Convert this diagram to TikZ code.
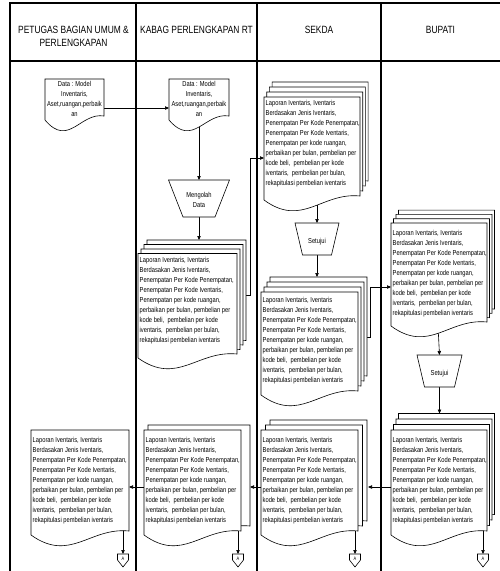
\documentclass[tikz,border=0pt]{standalone}
\usepackage{fontspec}
\setmainfont{Liberation Sans}[FakeStretch=0.8]
\usetikzlibrary{arrows.meta}
\tikzset{
  lane/.style={line width=1.1pt, line cap=rect},
  pagest/.style={draw, fill=white, line width=0.6pt, line join=miter},
  conn/.style={line width=0.6pt, -{Triangle[length=4pt,width=3.4pt]}},
  head/.style={font=\fontsize{10.5}{12.5}\selectfont, align=center, inner sep=0pt},
  doctext/.style={font=\fontsize{7.2}{10}\selectfont, align=left, inner sep=0pt, anchor=north west},
  smalltext/.style={font=\fontsize{7.2}{10}\selectfont, align=center, inner sep=0pt, anchor=north},
  proctext/.style={font=\fontsize{7.2}{10}\selectfont, align=center, inner sep=0pt},
  atext/.style={font=\fontsize{5}{6}\selectfont, inner sep=0pt}
}
\newcommand{\docshape}[5][]{\path[pagest,#1] (#2,#3) -- (#4,#3) -- (#4,{#5-4}) .. controls ({#2+0.6*(#4-#2)},{#5-8}) and ({#2+0.4*(#4-#2)},{#5+28}) .. (#2,#5) -- cycle;}
\newcommand{\docstack}[7]{\foreach \k in {#1,...,0}{\docshape[shift={({\k*#2},{-\k*#3})}]{#4}{#5}{#6}{#7}}}
\newcommand{\laptxt}{Laporan Iventaris, Iventaris\\Berdasakan Jenis Iventaris,\\Penempatan Per Kode Penempatan,\\Penempatan Per Kode Iventaris,\\Penempatan per kode ruangan,\\perbaikan per bulan, pembelian per\\kode beli,\ \ pembelian per kode\\iventaris,\ \ pembelian per bulan,\\rekapitulasi pembelian iventaris}
\newcommand{\offpage}[2]{\path[pagest] ({#1-5.5},554) -- ({#1+5.5},554) -- ({#1+5.5},560) -- (#1,567) -- ({#1-5.5},560) -- cycle; \node[atext] (#2) at (#1,558.5) {A};}
\newcommand{\invtrap}[6]{\path[pagest] ({#1-#3},#2) -- ({#1+#3},#2) -- ({#1+#4},{#2+#5}) -- ({#1-#4},{#2+#5}) -- cycle; \coordinate (#6top) at (#1,#2); \coordinate (#6bot) at (#1,{#2+#5});}
\begin{document}
\begin{tikzpicture}[x=1pt,y=-1pt]
\useasboundingbox (0,0) rectangle (500,571);
% swimlane frame
\draw[lane] (10,3) -- (500,3);
\draw[lane] (10,61) -- (500,61);
\foreach \x in {10,136,257,381} \draw[lane] (\x,3) -- (\x,571);
\node[head] (h1) at (73.5,36.5) {PETUGAS BAGIAN UMUM \&\\PERLENGKAPAN};
\node[head] (h2) at (196.5,30) {KABAG PERLENGKAPAN RT};
\node[head] (h3) at (319,30) {SEKDA};
\node[head] (h4) at (440.5,30) {BUPATI};

% connector end points
\coordinate (d1r) at (104,108);
\coordinate (d2l) at (169,108);
\coordinate (d2b) at (199,124);
\coordinate (s2in) at (199,240);
\coordinate (s2r) at (240,295);
\coordinate (s3ain) at (264,158);
\coordinate (s3ab) at (317,200);
\coordinate (s3bin) at (317,277);
\coordinate (s3br) at (355,337);
\coordinate (s4ain) at (391,287);
\coordinate (s4ab) at (438,326);
\coordinate (s4bin) at (439.5,413.5);
\coordinate (s4bl) at (395,487);
\coordinate (s3cr) at (368,487);
\coordinate (s3cl) at (265,487);
\coordinate (s2cr) at (250,487);
\coordinate (s2cl) at (148,487);
\coordinate (d1cr) at (129,487);
\coordinate (a1in) at (123,554);
\coordinate (a2in) at (238,554);
\coordinate (a3in) at (355,554);
\coordinate (a4in) at (483,554);

% connectors (behind the shapes)
\draw[conn] (d1r) -- (d2l);
\draw[conn] (d2b) -- (199,180);
\draw[conn] (199,217) -- (s2in);
\draw[conn] (s2r) -- (250,295) -- (250,158) -- (s3ain);
\draw[conn] (s3ab) -- (317,223);
\draw[conn] (317,255) -- (s3bin);
\draw[conn] (s3br) -- (370,337) -- (370,287) -- (s4ain);
\draw[conn] (s4ab) -- (439.5,355);
\draw[conn] (439.5,387) -- (s4bin);
\draw[conn] (s4bl) -- (s3cr);
\draw[conn] (s3cl) -- (s2cr);
\draw[conn] (s2cl) -- (d1cr);
\draw[conn] (123,530) -- (a1in);
\draw[conn] (238,530) -- (a2in);
\draw[conn] (355,530) -- (a3in);
\draw[conn] (483,530) -- (a4in);

% documents
\docshape{45}{79}{104}{120}
\node[smalltext] (t1) at (74.5,81.5) {Data : Model\\Inventaris,\\Aset,ruangan,perbaik\\an};
\docshape{169}{79}{229}{120}
\node[smalltext] (t2) at (199,81.5) {Data : Model\\Inventaris,\\Aset,ruangan,perbaik\\an};

\invtrap{199}{180}{30.5}{16}{37}{mg}
\node[proctext] (t3) at (199,200) {Mengolah\\Data};

\docstack{3}{3}{4.5}{138}{253.5}{237}{358}
\node[doctext] (t4) at (139.5,257) {\laptxt};

\docstack{3}{2.7}{5}{264}{97}{360}{200}
\node[doctext] (t5) at (265.5,99.7) {\laptxt};

\invtrap{317}{223}{22}{14.5}{32}{st1}
\node[proctext] (t6) at (317,242) {Setujui};

\docstack{3}{3}{5}{261}{292}{358}{395}
\node[doctext] (t7) at (262.5,296.7) {\laptxt};

\docstack{3}{2.5}{4.3}{391}{223}{487}{326}
\node[doctext] (t8) at (392.5,229.7) {\laptxt};

\invtrap{439.5}{355}{22.5}{15}{32}{st2}
\node[proctext] (t9) at (439.5,374) {Setujui};

\docstack{3}{2.5}{5.5}{391}{430}{487}{535}
\node[doctext] (t10) at (392.5,436.7) {\laptxt};

\docstack{2}{4.5}{5}{261}{430}{358}{535}
\node[doctext] (t11) at (262.5,436.7) {\laptxt};

\docshape{148}{425}{250}{530}
\docshape{144}{430}{241}{535}
\node[doctext] (t12) at (145.5,436.7) {\laptxt};

\docshape{31}{430}{129}{535}
\node[doctext] (t13) at (32.5,436.7) {\laptxt};

% off-page connectors
\offpage{123}{A1}
\offpage{238}{A2}
\offpage{355}{A3}
\offpage{483}{A4}
\end{tikzpicture}
\end{document}
